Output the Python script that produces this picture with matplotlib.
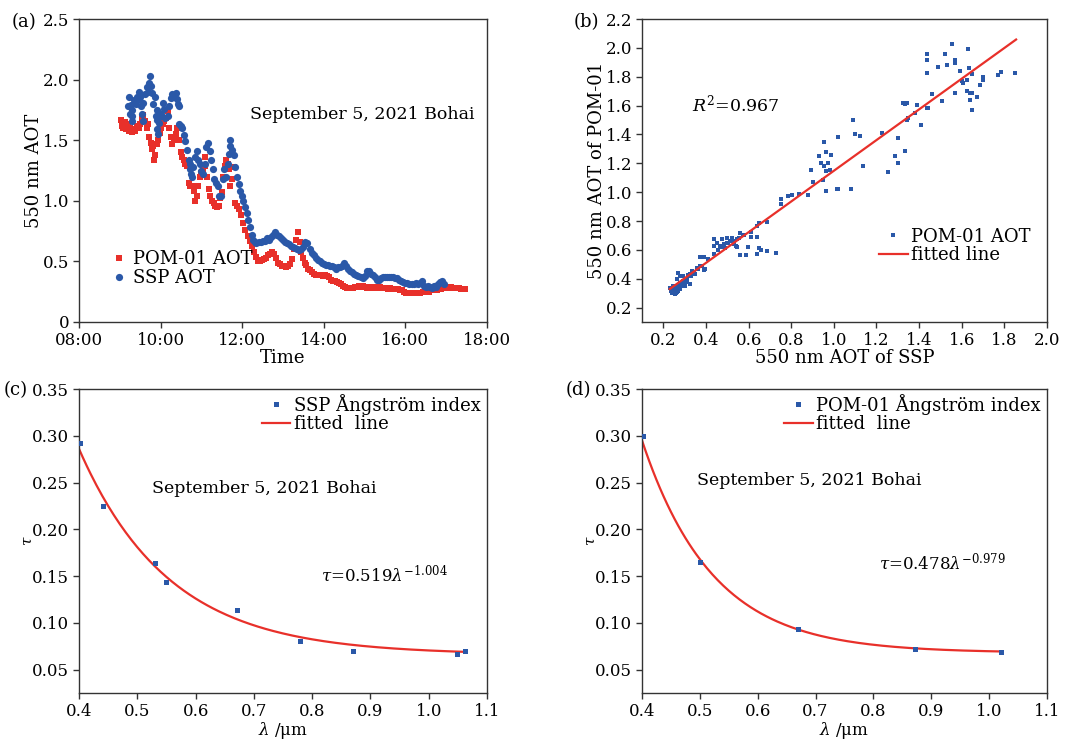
import numpy as np
import matplotlib
matplotlib.use("Agg")
import matplotlib.pyplot as plt

plt.rcParams['font.family'] = ['DejaVu Serif']
plt.rcParams['mathtext.fontset'] = 'dejavuserif'
plt.rcParams['font.size'] = 12

RED = '#e8302a'
BLUE = '#2a58a8'

# ---------------- panel (a) data: time (h) and 550 nm AOT ----------------
ssp_time = [9.21, 9.23, 9.25, 9.27, 9.29, 9.31, 9.31, 9.35, 9.40, 9.43, 9.46, 9.48, 9.50, 9.53, 9.55,
            9.58, 9.58, 9.62, 9.66, 9.68, 9.72, 9.74, 9.76, 9.78, 9.82, 9.86, 9.88, 9.90, 9.90, 9.92,
            9.94, 9.97, 10.00, 10.02, 10.05, 10.08, 10.12, 10.17, 10.21, 10.25, 10.29, 10.33, 10.37,
            10.41, 10.43, 10.45, 10.45, 10.49, 10.53, 10.57, 10.61, 10.65, 10.69, 10.71, 10.73, 10.75,
            10.77, 10.80, 10.84, 10.88, 10.92, 10.96, 11.00, 11.04, 11.08, 11.12, 11.16, 11.20, 11.24,
            11.28, 11.32, 11.36, 11.40, 11.44, 11.48, 11.52, 11.56, 11.60, 11.64, 11.67, 11.69, 11.71,
            11.75, 11.79, 11.83, 11.87, 11.91, 11.95, 11.99, 12.03, 12.07, 12.11, 12.15, 12.19, 12.23,
            12.27, 12.31,
            12.35, 12.40, 12.45, 12.50, 12.55, 12.60, 12.65, 12.70, 12.75, 12.80, 12.85, 12.90, 12.95,
            13.00, 13.05, 13.10, 13.15, 13.20, 13.25, 13.30, 13.35, 13.40, 13.45, 13.50, 13.55, 13.60,
            13.65, 13.70, 13.75, 13.80, 13.85, 13.90, 13.95, 14.00, 14.05, 14.10, 14.15, 14.20, 14.25,
            14.30, 14.35, 14.40, 14.45, 14.50, 14.55, 14.60, 14.65, 14.70, 14.75, 14.80, 14.85, 14.90,
            14.95, 15.00, 15.05, 15.10, 15.15, 15.20, 15.25, 15.30, 15.35, 15.40, 15.45, 15.50, 15.55,
            15.60, 15.65, 15.70, 15.75, 15.80, 15.85, 15.90, 15.95, 16.00, 16.05, 16.10, 16.15, 16.20,
            16.25, 16.30, 16.35, 16.40, 16.45, 16.50, 16.55, 16.60, 16.65, 16.70, 16.75, 16.80, 16.85,
            16.90, 16.95]
ssp_aot = [1.78, 1.86, 1.72, 1.79, 1.75, 1.70, 1.66, 1.83, 1.80, 1.86, 1.90, 1.84, 1.86, 1.78, 1.72,
           1.81, 1.66, 1.88, 1.94, 1.90, 1.97, 2.03, 1.95, 1.89, 1.80, 1.86, 1.70, 1.75, 1.67, 1.59,
           1.55, 1.64, 1.70, 1.72, 1.81, 1.76, 1.68, 1.70, 1.78, 1.85, 1.88, 1.86, 1.89,
           1.84, 1.80, 1.78, 1.63, 1.62, 1.60, 1.54, 1.49, 1.42, 1.34, 1.30, 1.26, 1.22,
           1.20, 1.28, 1.36, 1.41, 1.34, 1.30, 1.25, 1.22, 1.30, 1.44, 1.48, 1.41, 1.34,
           1.26, 1.18, 1.15, 1.12, 1.04, 1.04, 1.18, 1.26, 1.20, 1.30, 1.39, 1.45, 1.50,
           1.42, 1.38, 1.28, 1.20, 1.14, 1.08, 1.04, 1.00, 0.95, 0.90, 0.84, 0.78, 0.72,
           0.68, 0.66,
           0.65, 0.66, 0.66, 0.67, 0.67, 0.69, 0.68, 0.70, 0.72, 0.74, 0.72, 0.71, 0.69,
           0.68, 0.66, 0.65, 0.64, 0.63, 0.62, 0.61, 0.60, 0.59, 0.60, 0.62, 0.66, 0.65,
           0.60, 0.57, 0.55, 0.53, 0.51, 0.50, 0.49, 0.48, 0.47, 0.47, 0.46, 0.46, 0.45,
           0.44, 0.45, 0.45, 0.46, 0.49, 0.46, 0.44, 0.42, 0.41, 0.40, 0.39, 0.38, 0.37,
           0.36, 0.38, 0.42, 0.42, 0.40, 0.39, 0.37, 0.35, 0.35, 0.36, 0.37, 0.37, 0.37,
           0.37, 0.37, 0.37, 0.36, 0.36, 0.35, 0.34, 0.33, 0.32, 0.32, 0.31, 0.31, 0.31,
           0.32, 0.31, 0.32, 0.34, 0.30, 0.29, 0.30, 0.29, 0.28, 0.30, 0.29, 0.31, 0.33,
           0.34, 0.31]

pom_time = [9.03, 9.05, 9.08, 9.12, 9.15, 9.19, 9.22, 9.26, 9.30, 9.34, 9.38, 9.42, 9.46, 9.50, 9.54,
            9.58, 9.62, 9.66, 9.70, 9.72, 9.76, 9.78, 9.82, 9.84, 9.86, 9.90, 9.94, 9.98, 10.01, 10.05,
            10.09, 10.13, 10.17, 10.21, 10.25, 10.29, 10.33, 10.37, 10.41, 10.45, 10.49, 10.53, 10.57,
            10.61, 10.65, 10.69, 10.73, 10.77, 10.81, 10.85, 10.88, 10.92, 10.96, 11.00, 11.04, 11.08,
            11.10, 11.14, 11.18, 11.22, 11.26, 11.30, 11.34, 11.38, 11.42, 11.46, 11.50, 11.54, 11.57,
            11.61, 11.64, 11.67, 11.71, 11.75, 11.79, 11.83, 11.87, 11.92, 11.98, 12.03, 12.08, 12.13,
            12.18, 12.23, 12.28, 12.33,
            12.38, 12.43, 12.48, 12.53, 12.58, 12.63, 12.68, 12.73, 12.78, 12.83, 12.88, 12.93, 12.98,
            13.03, 13.08, 13.13, 13.18, 13.23, 13.28, 13.33, 13.37, 13.41, 13.45, 13.49, 13.53, 13.57,
            13.62, 13.67, 13.72, 13.77, 13.82, 13.87, 13.92, 13.97, 14.02, 14.07, 14.12, 14.17, 14.22,
            14.27, 14.32, 14.37, 14.42, 14.47, 14.52, 14.57, 14.62, 14.67, 14.72, 14.77, 14.82, 14.87,
            14.92, 14.97, 15.02, 15.07, 15.12, 15.17, 15.22, 15.27, 15.32, 15.37, 15.42, 15.47, 15.52,
            15.57, 15.62, 15.67, 15.72, 15.77, 15.82, 15.87, 15.92, 15.97, 16.02, 16.07, 16.12, 16.17,
            16.22, 16.27, 16.32, 16.37, 16.42, 16.47, 16.52, 16.57, 16.62, 16.67, 16.72, 16.77, 16.82,
            16.87, 16.92, 16.97, 17.02, 17.07, 17.12, 17.17, 17.22, 17.27, 17.32, 17.37, 17.42, 17.47]
pom_aot = [1.67, 1.62, 1.60, 1.65, 1.59, 1.63, 1.58, 1.60, 1.57, 1.59, 1.58, 1.62, 1.60, 1.63, 1.68,
           1.71, 1.66, 1.60, 1.63, 1.53, 1.48, 1.43, 1.45, 1.34, 1.38, 1.47, 1.50, 1.56, 1.60, 1.63,
           1.66, 1.68, 1.74, 1.60, 1.53, 1.47, 1.50, 1.55, 1.60, 1.50, 1.40, 1.36, 1.34,
           1.30, 1.29, 1.15, 1.12, 1.12, 1.08, 1.00, 1.04, 1.12, 1.20, 1.23, 1.26, 1.36,
           1.29, 1.20, 1.10, 1.04, 1.00, 0.98, 0.96, 0.95, 0.96, 1.02, 1.07, 1.20, 1.29,
           1.34, 1.30, 1.26, 1.12, 1.18, 1.28, 0.98, 0.96, 0.93, 0.88, 0.82, 0.76, 0.71,
           0.67, 0.63, 0.58, 0.54,
           0.50, 0.50, 0.51, 0.52, 0.53, 0.55, 0.56, 0.58, 0.56, 0.53, 0.49, 0.48, 0.46,
           0.46, 0.45, 0.46, 0.48, 0.52, 0.60, 0.68, 0.74, 0.66, 0.58, 0.53, 0.49, 0.47,
           0.44, 0.43, 0.41, 0.40, 0.39, 0.39, 0.39, 0.38, 0.39, 0.38, 0.37, 0.35, 0.34,
           0.34, 0.33, 0.32, 0.31, 0.30, 0.29, 0.28, 0.28, 0.28, 0.28, 0.29, 0.29, 0.30,
           0.29, 0.30, 0.29, 0.28, 0.29, 0.28, 0.29, 0.28, 0.28, 0.29, 0.28, 0.28, 0.28,
           0.27, 0.28, 0.27, 0.27, 0.27, 0.27, 0.26, 0.26, 0.25, 0.24, 0.24, 0.24, 0.24,
           0.24, 0.24, 0.24, 0.24, 0.25, 0.25, 0.25, 0.25, 0.26, 0.26, 0.26, 0.26, 0.27,
           0.27, 0.28, 0.28, 0.28, 0.28, 0.29, 0.28, 0.28, 0.28, 0.28, 0.27, 0.27, 0.27]

time_ticks = [8, 10, 12, 14, 16, 18]
time_labels = ['08:00', '10:00', '12:00', '14:00', '16:00', '18:00']
aot_ticks = [0, 0.5, 1.0, 1.5, 2.0, 2.5]
aot_labels = ['0', '0.5', '1.0', '1.5', '2.0', '2.5']

# ---------------- panel (b) data: SSP vs POM-01 AOT ----------------
b_ssp = [1.436, 1.436, 1.436, 1.554, 1.523, 1.490, 1.530, 1.570, 1.570, 1.628, 1.594, 1.633, 1.600,
         1.608, 1.625, 1.640, 1.646, 1.567, 1.625, 1.649, 1.640, 1.649, 1.672, 1.687, 1.700, 1.700,
         1.771, 1.786, 1.852, 1.460, 1.507, 1.436, 1.444, 1.389, 1.326, 1.334, 1.342, 1.380, 1.410,
         1.342, 1.350, 1.224, 1.302, 1.334, 1.287, 1.302, 1.255, 1.090, 1.098, 1.121, 1.019, 1.021,
         1.137, 1.082, 1.016, 0.956, 0.931, 0.964, 0.987, 0.940, 0.956, 0.972, 0.980, 0.964, 0.893,
         0.948, 0.900, 0.964, 0.877, 0.838, 0.806, 0.783, 0.751, 0.751, 0.688, 0.649, 0.641, 0.613,
         0.641, 0.613, 0.562, 0.578, 0.546, 0.531, 0.523, 0.499, 0.476, 0.452, 0.436, 0.436, 0.468,
         0.499, 0.491, 0.546, 0.515, 0.484, 0.597, 0.562, 0.586, 0.649, 0.657, 0.641, 0.688, 0.728,
         0.436, 0.389, 0.373, 0.397, 0.389, 0.373, 0.357, 0.334, 0.326, 0.326, 0.310, 0.294, 0.279,
         0.271, 0.279, 0.263, 0.247, 0.239, 0.255, 0.231, 0.235, 0.271, 0.263, 0.287, 0.279, 0.255,
         0.247, 0.263, 0.294, 0.302, 0.342, 0.302, 0.247, 0.318, 0.240, 0.250, 0.260, 0.270, 0.285,
         0.300, 0.310, 0.330, 0.350, 0.365, 0.380, 0.410, 0.455, 0.470, 0.505, 0.525, 0.540, 0.555,
         0.575]
b_pom = [1.956, 1.917, 1.825, 2.025, 1.958, 1.870, 1.878, 1.917, 1.894, 1.993, 1.840, 1.859, 1.767,
         1.755, 1.780, 1.690, 1.820, 1.686, 1.700, 1.686, 1.640, 1.571, 1.658, 1.744, 1.778, 1.797,
         1.813, 1.836, 1.829, 1.679, 1.631, 1.580, 1.580, 1.606, 1.617, 1.612, 1.617, 1.548, 1.465,
         1.500, 1.513, 1.410, 1.375, 1.283, 1.248, 1.202, 1.140, 1.497, 1.403, 1.387, 1.382, 1.020,
         1.184, 1.022, 1.020, 1.345, 1.253, 1.276, 1.260, 1.202, 1.184, 1.202, 1.156, 1.145, 1.156,
         1.087, 1.069, 1.011, 0.977, 0.990, 0.977, 0.972, 0.953, 0.921, 0.792, 0.788, 0.765, 0.691,
         0.691, 0.725, 0.718, 0.700, 0.672, 0.638, 0.684, 0.684, 0.672, 0.649, 0.672, 0.626, 0.626,
         0.650, 0.615, 0.620, 0.660, 0.640, 0.622, 0.562, 0.562, 0.615, 0.599, 0.569, 0.592, 0.576,
         0.569, 0.553, 0.550, 0.470, 0.460, 0.488, 0.476, 0.453, 0.430, 0.361, 0.396, 0.384, 0.419,
         0.442, 0.373, 0.350, 0.327, 0.304, 0.292, 0.338, 0.315, 0.315, 0.396, 0.350, 0.331, 0.300,
         0.304, 0.310, 0.419, 0.350, 0.442, 0.380, 0.350, 0.424, 0.320, 0.330, 0.300, 0.340, 0.360,
         0.400, 0.380, 0.420, 0.430, 0.470, 0.490, 0.540, 0.600, 0.620, 0.650, 0.660, 0.630, 0.680,
         0.700]
b_fit_slope = 1.064
b_fit_intercept = 0.084
b_fit_x = [0.23, 1.855]
b_xticks = [0.2, 0.4, 0.6, 0.8, 1.0, 1.2, 1.4, 1.6, 1.8, 2.0]
b_yticks = [0.2, 0.4, 0.6, 0.8, 1.0, 1.2, 1.4, 1.6, 1.8, 2.0, 2.2]

# ---------------- panel (c) / (d) data: wavelength (um) and tau ----------------
c_wl = [0.402, 0.441, 0.531, 0.549, 0.671, 0.779, 0.870, 1.049, 1.063]
c_tau = [0.292, 0.225, 0.164, 0.144, 0.114, 0.081, 0.070, 0.067, 0.070]
c_fit = dict(offset=0.066, amp=0.220, decay=0.154, x0=0.4, x1=1.063)

d_wl = [0.401, 0.500, 0.669, 0.871, 1.021]
d_tau = [0.300, 0.165, 0.0936, 0.0718, 0.069]
d_fit = dict(offset=0.068, amp=0.227, decay=0.122, x0=0.4, x1=1.021)

wl_ticks = [0.4, 0.5, 0.6, 0.7, 0.8, 0.9, 1.0, 1.1]
tau_ticks = [0.05, 0.10, 0.15, 0.20, 0.25, 0.30, 0.35]

W, H = 1084, 741
fig = plt.figure(figsize=(W / 100, H / 100), dpi=100)


def rect(l, t, r, b):
    return [l / W, 1 - b / H, (r - l) / W, (b - t) / H]


def style(ax):
    for s in ax.spines.values():
        s.set_color('#333333')
        s.set_linewidth(1.0)
    ax.tick_params(direction='out', length=4, width=1, color='#333333', labelsize=12,
                   top=False, right=False, pad=3)


ax_a = fig.add_axes(rect(79, 19, 487, 322))
ax_b = fig.add_axes(rect(642, 19, 1047, 322))
ax_c = fig.add_axes(rect(79, 389, 487, 693))
ax_d = fig.add_axes(rect(642, 389, 1047, 693))
for ax in (ax_a, ax_b, ax_c, ax_d):
    style(ax)

# (a)
ax_a.plot(pom_time, pom_aot, 's', color=RED, ms=4.5, mew=0, label='POM-01 AOT')
ax_a.plot(ssp_time, ssp_aot, 'o', color=BLUE, ms=5.2, mew=0, label='SSP AOT')
ax_a.set_xlim(8, 18)
ax_a.set_ylim(0, 2.5)
ax_a.set_xticks(time_ticks)
ax_a.set_xticklabels(time_labels)
ax_a.set_yticks(aot_ticks)
ax_a.set_yticklabels(aot_labels)
ax_a.set_xlabel('Time', fontsize=13, labelpad=0)
ax_a.set_ylabel('550 nm AOT', fontsize=13, labelpad=0)
ax_a.text(0.42, 0.686, 'September 5, 2021 Bohai', transform=ax_a.transAxes, fontsize=12.5,
          va='center', ha='left')
ax_a.legend(loc='lower left', bbox_to_anchor=(0.08, 0.115), frameon=False, fontsize=13,
            handlelength=0.8, handletextpad=0.4, labelspacing=0.05, borderaxespad=0,
            borderpad=0)

# (b)
ax_b.plot(b_ssp, b_pom, 's', color=BLUE, ms=3.2, mew=0, label='POM-01 AOT')
fx = np.array(b_fit_x)
ax_b.plot(fx, b_fit_slope * fx + b_fit_intercept, '-', color=RED, lw=1.6, label='fitted line')
ax_b.set_xlim(0.1, 2.0)
ax_b.set_ylim(0.1, 2.2)
ax_b.set_xticks(b_xticks)
ax_b.set_xticklabels(['%.1f' % v for v in b_xticks])
ax_b.set_yticks(b_yticks)
ax_b.set_yticklabels(['%.1f' % v for v in b_yticks])
ax_b.set_xlabel('550 nm AOT of SSP', fontsize=13, labelpad=0)
ax_b.set_ylabel('550 nm AOT of POM-01', fontsize=13, labelpad=0)
ax_b.text(0.123, 0.717, r'$R^2$=0.967', transform=ax_b.transAxes, fontsize=12.5,
          va='center', ha='left')
ax_b.legend(loc='lower right', bbox_to_anchor=(0.96, 0.19), frameon=False, fontsize=13,
            handlelength=1.6, handletextpad=0.2, labelspacing=0.05, borderaxespad=0,
            borderpad=0)


def fit_curve(p):
    x = np.linspace(p['x0'], p['x1'], 200)
    return x, p['offset'] + p['amp'] * np.exp(-(x - p['x0']) / p['decay'])


for ax, wl, tau, fit, name, eq, tpos, epos in (
        (ax_c, c_wl, c_tau, c_fit, 'SSP Ångström index', r'$\tau$=0.519$\lambda^{-1.004}$',
         (0.18, 0.673), (0.594, 0.389)),
        (ax_d, d_wl, d_tau, d_fit, 'POM-01 Ångström index', r'$\tau$=0.478$\lambda^{-0.979}$',
         (0.136, 0.70), (0.584, 0.431))):
    ax.plot(wl, tau, 's', color=BLUE, ms=3.6, mew=0, label=name, zorder=3)
    cx, cy = fit_curve(fit)
    ax.plot(cx, cy, '-', color=RED, lw=1.6, label='fitted  line', zorder=2)
    ax.set_xlim(0.4, 1.1)
    ax.set_ylim(0.025, 0.35)
    ax.set_xticks(wl_ticks)
    ax.set_xticklabels(['%.1f' % v for v in wl_ticks])
    ax.set_yticks(tau_ticks)
    ax.set_yticklabels(['%.2f' % v for v in tau_ticks])
    ax.set_xlabel(r'$\lambda$ /μm', fontsize=12, labelpad=0)
    ax.set_ylabel(r'$\tau$', fontsize=11, labelpad=-2)
    ax.text(tpos[0], tpos[1], 'September 5, 2021 Bohai', transform=ax.transAxes, fontsize=12.5,
            va='center', ha='left')
    ax.text(epos[0], epos[1], eq, transform=ax.transAxes, fontsize=12, va='center', ha='left')
    ax.legend(loc='upper right', bbox_to_anchor=(0.985, 0.985), frameon=False, fontsize=13,
              handlelength=1.6, handletextpad=0.2, labelspacing=0.05, borderaxespad=0,
              borderpad=0)

fig.text(12 / W, 1 - 22 / H, '(a)', fontsize=13, ha='left', va='center')
fig.text(574 / W, 1 - 22 / H, '(b)', fontsize=13, ha='left', va='center')
fig.text(4 / W, 1 - 390 / H, '(c)', fontsize=13, ha='left', va='center')
fig.text(566 / W, 1 - 390 / H, '(d)', fontsize=13, ha='left', va='center')

fig.savefig('out.png', dpi=100)
